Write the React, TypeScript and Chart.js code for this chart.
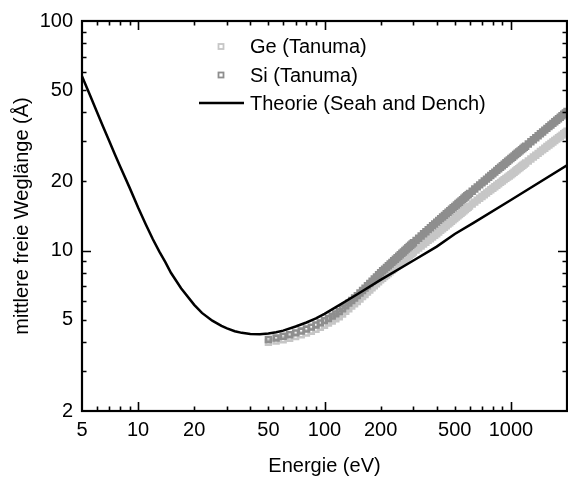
import React, { useEffect, useRef } from 'react';
import { Chart, registerables } from 'chart.js';

Chart.register(...registerables);

// Energies (eV) of the Tanuma data
const tanumaEnergy = [
  50, 55, 60, 65, 70, 75, 80, 85, 90, 95, 100, 105, 110, 115, 120, 125, 130, 135, 140, 145, 150,
  155, 160, 165, 170, 175, 180, 185, 190, 195, 200, 205, 210, 215, 220, 225, 230, 235, 240, 245, 250, 255, 260, 265, 270, 275, 280, 285, 290, 295, 300,
  310, 320, 330, 340, 350, 360, 370, 380, 390, 400, 410, 420, 430, 440, 450, 460, 470, 480, 490, 500, 510, 520, 530, 540, 550, 560, 570, 580, 590, 600,
  620, 640, 660, 680, 700, 720, 740, 760, 780, 800, 820, 840, 860, 880, 900, 920, 940, 960, 980, 1000, 1020, 1040, 1060, 1080, 1100, 1120, 1140, 1160, 1180, 1200,
  1240, 1280, 1320, 1360, 1400, 1440, 1480, 1520, 1560, 1600, 1640, 1680, 1720, 1760, 1800, 1840, 1880, 1920, 1960, 2000,
];

// Ge (Tanuma) inelastic mean free path, Å
const geIMFP = [
  3.98, 4.03, 4.09, 4.15, 4.22, 4.29, 4.37, 4.45, 4.54, 4.63, 4.73, 4.83, 4.93, 5.04, 5.15, 5.29, 5.44, 5.58, 5.73, 5.86, 5.99,
  6.15, 6.3, 6.44, 6.59, 6.73, 6.88, 7.02, 7.16, 7.31, 7.45, 7.58, 7.7, 7.83, 7.95, 8.08, 8.21, 8.33, 8.45, 8.57, 8.69, 8.81, 8.93, 9.04, 9.16, 9.28, 9.4, 9.5, 9.62, 9.73, 9.84,
  10.05, 10.26, 10.47, 10.67, 10.87, 11.07, 11.26, 11.46, 11.65, 11.84, 12.04, 12.24, 12.44, 12.64, 12.83, 13.03, 13.22, 13.41, 13.6, 13.79, 13.98, 14.16, 14.35, 14.53, 14.71, 14.9, 15.07, 15.26, 15.44, 15.61,
  15.94, 16.26, 16.58, 16.89, 17.21, 17.51, 17.81, 18.11, 18.4, 18.68, 18.97, 19.26, 19.53, 19.81, 20.08, 20.36, 20.62, 20.88, 21.14, 21.39, 21.67, 21.94, 22.21, 22.48, 22.75, 23.01, 23.28, 23.53, 23.79, 24.05,
  24.55, 25.05, 25.55, 26.03, 26.51, 26.99, 27.46, 27.92, 28.38, 28.83, 29.28, 29.72, 30.15, 30.58, 31.01, 31.43, 31.84, 32.25, 32.66, 33.07,
];

// Si (Tanuma) inelastic mean free path, Å
const siIMFP = [
  4.1, 4.16, 4.23, 4.3, 4.38, 4.46, 4.55, 4.64, 4.74, 4.84, 4.95, 5.06, 5.18, 5.3, 5.42, 5.58, 5.74, 5.9, 6.06, 6.21, 6.36,
  6.53, 6.7, 6.86, 7.03, 7.19, 7.36, 7.52, 7.68, 7.85, 8.01, 8.16, 8.3, 8.45, 8.59, 8.74, 8.88, 9.03, 9.17, 9.31, 9.45, 9.59, 9.73, 9.86, 10.0, 10.14, 10.28, 10.41, 10.55, 10.68, 10.81,
  11.07, 11.32, 11.58, 11.83, 12.08, 12.33, 12.57, 12.82, 13.06, 13.3, 13.54, 13.77, 14.0, 14.23, 14.46, 14.69, 14.91, 15.14, 15.36, 15.58, 15.8, 16.02, 16.24, 16.46, 16.67, 16.89, 17.1, 17.32, 17.53, 17.74,
  18.14, 18.54, 18.94, 19.33, 19.72, 20.1, 20.48, 20.86, 21.23, 21.6, 21.97, 22.34, 22.7, 23.06, 23.42, 23.78, 24.13, 24.48, 24.83, 25.17, 25.51, 25.85, 26.19, 26.52, 26.86, 27.19, 27.52, 27.84, 28.17, 28.49,
  29.13, 29.77, 30.4, 31.02, 31.64, 32.25, 32.86, 33.46, 34.06, 34.65, 35.24, 35.82, 36.39, 36.97, 37.54, 38.1, 38.66, 39.22, 39.77, 40.33,
];

// Theory (Seah and Dench)
const theoryEnergy = [5, 5.5, 6, 6.5, 7, 7.5, 8, 9, 10, 11, 12, 13, 14, 15, 17, 20, 22, 25, 28, 30, 33, 36, 40, 45, 50, 55, 60, 70, 80, 90, 100, 120, 150, 200, 300, 400, 500, 630, 1000, 2000];
const theoryIMFP = [57.5, 47.8, 40.3, 34.5, 30.0, 26.3, 23.3, 18.8, 15.4, 13.0, 11.2, 9.9, 8.9, 8.0, 6.85, 5.8, 5.35, 4.95, 4.7, 4.58, 4.45, 4.38, 4.33, 4.32, 4.35, 4.41, 4.48, 4.67, 4.86, 5.06, 5.3, 5.78, 6.45, 7.45, 9.05, 10.4, 11.8, 13.2, 16.6, 23.5];

const seriesLabels = ['Ge (Tanuma)', 'Si (Tanuma)', 'Theorie (Seah and Dench)'];

// Axes
const xLimits = [5, 2000];
const yLimits = [2, 100];
const xTickValues = [5, 6, 7, 8, 9, 10, 20, 30, 40, 50, 60, 70, 80, 90, 100, 200, 300, 400, 500, 600, 700, 800, 900, 1000, 2000];
const yTickValues = [2, 3, 4, 5, 6, 7, 8, 9, 10, 20, 30, 40, 50, 60, 70, 80, 90, 100];
const xTickLabels = [5, 10, 20, 50, 100, 200, 500, 1000];
const yTickLabels = [2, 5, 10, 20, 50, 100];
const xTitle = 'Energie (eV)';
const yTitle = 'mittlere freie Weglänge (Å)';

const FONT = "'Liberation Sans', Arial, Helvetica, sans-serif";

const isDecade = (v: number) => Math.abs(Math.log10(v) - Math.round(Math.log10(v))) < 1e-9;

const framePlugin = {
  id: 'frameTicks',
  afterDatasetsDraw(chart: any) {
    const { ctx, chartArea, scales } = chart;
    const { left, right, top, bottom } = chartArea;
    const x = scales.x;
    const y = scales.y;
    ctx.save();
    ctx.strokeStyle = '#000';
    ctx.lineWidth = 1.6;
    ctx.beginPath();
    for (const t of x.ticks) {
      const v = t.value;
      if (v <= x.min || v >= x.max) continue;
      const px = Math.round(x.getPixelForValue(v)) + 0.5;
      const len = isDecade(v) ? 9 : 4.5;
      ctx.moveTo(px, bottom);
      ctx.lineTo(px, bottom - len);
      ctx.moveTo(px, top);
      ctx.lineTo(px, top + len);
    }
    for (const t of y.ticks) {
      const v = t.value;
      if (v <= y.min || v >= y.max) continue;
      const py = Math.round(y.getPixelForValue(v)) + 0.5;
      const len = isDecade(v) ? 9 : 4.5;
      ctx.moveTo(left, py);
      ctx.lineTo(left + len, py);
      ctx.moveTo(right, py);
      ctx.lineTo(right - len, py);
    }
    ctx.stroke();
    ctx.lineWidth = 2.2;
    ctx.strokeRect(left, top, right - left, bottom - top);
    ctx.restore();
  },
};

const legendPlugin = {
  id: 'insideLegend',
  afterDraw(chart: any) {
    const { ctx } = chart;
    const ds = chart.data.datasets;
    const rows = [46.5, 75, 103];
    const textX = 250;
    ctx.save();
    ctx.font = `20px ${FONT}`;
    ctx.textAlign = 'left';
    ctx.textBaseline = 'middle';
    ds.forEach((d: any, i: number) => {
      const yy = rows[i];
      if (d.showLine) {
        ctx.strokeStyle = d.borderColor;
        ctx.lineWidth = d.borderWidth;
        ctx.beginPath();
        ctx.moveTo(199, yy);
        ctx.lineTo(244, yy);
        ctx.stroke();
      } else {
        ctx.strokeStyle = d.borderColor;
        ctx.lineWidth = 1.8;
        ctx.strokeRect(218.5, yy - 2.5, 5, 5);
      }
      ctx.fillStyle = '#000';
      ctx.fillText(d.label, textX, yy + 1);
    });
    ctx.restore();
  },
};

export default function App() {
  const canvasRef = useRef<HTMLCanvasElement | null>(null);

  useEffect(() => {
    const canvas = canvasRef.current;
    if (!canvas) return;
    const toPoints = (xs: number[], ys: number[]) => xs.map((v, i) => ({ x: v, y: ys[i] }));

    const chart = new Chart(canvas, {
      type: 'scatter',
      data: {
        datasets: [
          {
            label: seriesLabels[0],
            data: toPoints(tanumaEnergy, geIMFP),
            pointStyle: 'rect',
            pointRadius: 3.4,
            pointBorderWidth: 2.6,
            borderColor: '#c6c6c6',
            pointBorderColor: '#c6c6c6',
            pointBackgroundColor: 'rgba(0,0,0,0)',
            backgroundColor: 'rgba(0,0,0,0)',
            showLine: false,
            order: 3,
          },
          {
            label: seriesLabels[1],
            data: toPoints(tanumaEnergy, siIMFP),
            pointStyle: 'rect',
            pointRadius: 3.4,
            pointBorderWidth: 2.6,
            borderColor: '#8e8e8e',
            pointBorderColor: '#8e8e8e',
            pointBackgroundColor: 'rgba(0,0,0,0)',
            backgroundColor: 'rgba(0,0,0,0)',
            showLine: false,
            order: 2,
          },
          {
            label: seriesLabels[2],
            data: toPoints(theoryEnergy, theoryIMFP),
            showLine: true,
            borderColor: '#000000',
            borderWidth: 2.5,
            pointRadius: 0,
            tension: 0,
            fill: false,
            order: 1,
          },
        ],
      } as any,
      options: {
        animation: false,
        responsive: false,
        maintainAspectRatio: false,
        devicePixelRatio: 1,
        layout: { padding: { left: 0, right: 3, top: 15, bottom: 0 } },
        plugins: {
          legend: { display: false },
          tooltip: { enabled: false },
        },
        scales: {
          x: {
            type: 'logarithmic',
            position: 'bottom',
            min: xLimits[0],
            max: xLimits[1],
            grid: { display: false, drawTicks: false },
            border: { display: false },
            afterBuildTicks: (scale: any) => {
              scale.ticks = xTickValues.map((v) => ({ value: v }));
            },
            afterFit: (scale: any) => {
              scale.height = 70;
            },
            ticks: {
              autoSkip: false,
              maxRotation: 0,
              minRotation: 0,
              padding: 7,
              color: '#000',
              font: { family: FONT, size: 20 },
              callback: (value: any) => (xTickLabels.includes(Number(value)) ? String(value) : ''),
            },
            title: {
              display: true,
              text: xTitle,
              color: '#000',
              font: { family: FONT, size: 20 },
              padding: { top: 0, bottom: 3 },
            },
          },
          y: {
            type: 'logarithmic',
            position: 'left',
            min: yLimits[0],
            max: yLimits[1],
            grid: { display: false, drawTicks: false },
            border: { display: false },
            afterBuildTicks: (scale: any) => {
              scale.ticks = yTickValues.map((v) => ({ value: v }));
            },
            afterFit: (scale: any) => {
              scale.width = 82;
            },
            ticks: {
              autoSkip: false,
              padding: 9,
              color: '#000',
              font: { family: FONT, size: 20 },
              callback: (value: any) => (yTickLabels.includes(Number(value)) ? String(value) : ''),
            },
            title: {
              display: true,
              text: yTitle,
              color: '#000',
              font: { family: FONT, size: 20 },
              padding: { top: 10, bottom: 0 },
            },
          },
        },
      } as any,
      plugins: [framePlugin, legendPlugin],
    });
    return () => chart.destroy();
  }, []);

  return (
    <div style={{ position: 'fixed', left: 0, top: 0, width: 568, height: 481, overflow: 'hidden', background: '#fff' }}>
      <canvas ref={canvasRef} width={574} height={481} style={{ display: 'block', width: 574, height: 481 }} />
    </div>
  );
}
